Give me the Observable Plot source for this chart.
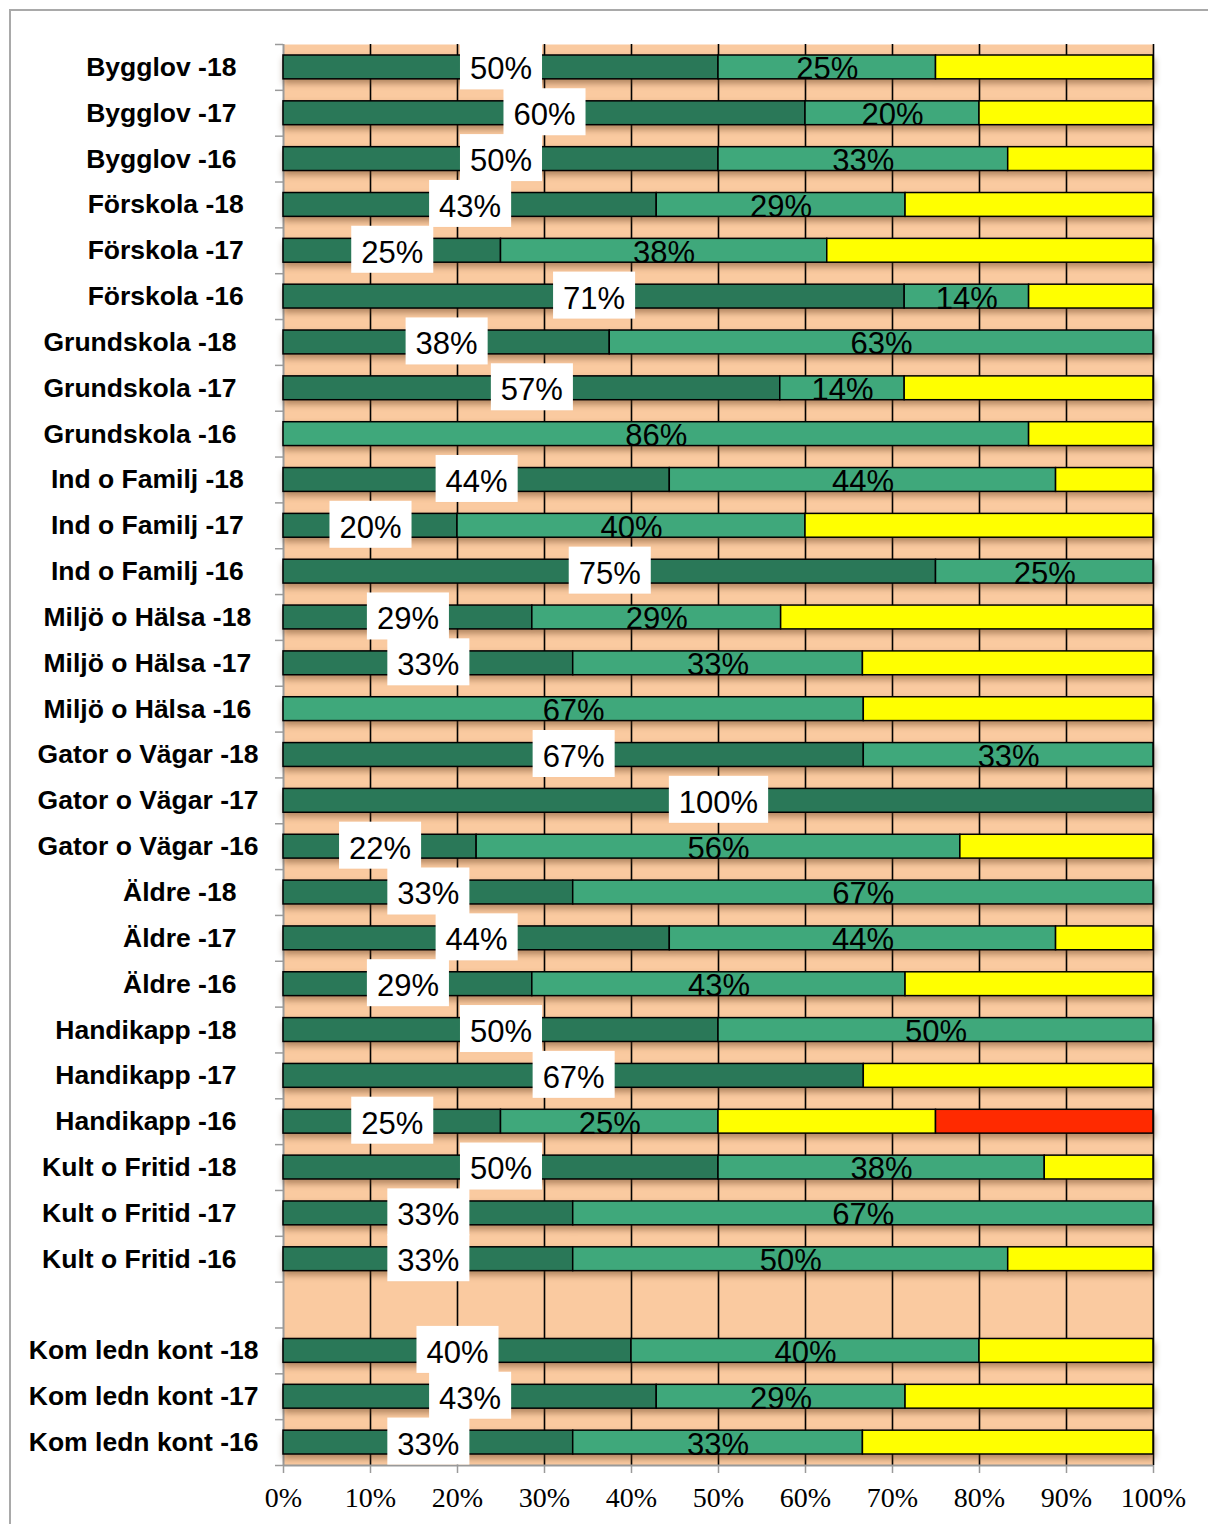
<!DOCTYPE html>
<html>
<head>
<meta charset="utf-8">
<script src="https://cdn.jsdelivr.net/npm/d3@7"></script>
<script src="https://cdn.jsdelivr.net/npm/@observablehq/plot@0.6"></script>
<style>
  body { margin: 0; background: #fff; }
  #wrap { position: relative; width: 1208px; height: 1524px; overflow: hidden; }
  #frame { position: absolute; left: 9px; top: 9px; width: 1400px; height: 1700px;
           border-left: 2px solid #a9a9a9; border-top: 2px solid #a9a9a9; }
  #chart { position: absolute; left: 0; top: 0; }
</style>
</head>
<body>
<div id="wrap"><div id="frame"></div><div id="chart"></div></div>
<script>
// ---- data ----
const categories = [
  "Bygglov -18", "Bygglov -17", "Bygglov -16",
  "Förskola -18", "Förskola -17", "Förskola -16",
  "Grundskola -18", "Grundskola -17", "Grundskola -16",
  "Ind o Familj -18", "Ind o Familj -17", "Ind o Familj -16",
  "Miljö o Hälsa -18", "Miljö o Hälsa -17", "Miljö o Hälsa -16",
  "Gator o Vägar -18", "Gator o Vägar -17", "Gator o Vägar -16",
  "Äldre -18", "Äldre -17", "Äldre -16",
  "Handikapp -18", "Handikapp -17", "Handikapp -16",
  "Kult o Fritid -18", "Kult o Fritid -17", "Kult o Fritid -16",
  "",
  "Kom ledn kont -18", "Kom ledn kont -17", "Kom ledn kont -16"
];
// tick label text as printed (with the trailing spaces of the original labels)
const tickLabels = [
  "Bygglov -18\u00a0\u00a0\u00a0", "Bygglov -17\u00a0\u00a0\u00a0", "Bygglov -16\u00a0\u00a0\u00a0",
  "Förskola -18\u00a0\u00a0", "Förskola -17\u00a0\u00a0", "Förskola -16\u00a0\u00a0",
  "Grundskola -18\u00a0\u00a0\u00a0", "Grundskola -17\u00a0\u00a0\u00a0", "Grundskola -16\u00a0\u00a0\u00a0",
  "Ind o Familj -18\u00a0\u00a0", "Ind o Familj -17\u00a0\u00a0", "Ind o Familj -16\u00a0\u00a0",
  "Miljö o Hälsa -18\u00a0", "Miljö o Hälsa -17\u00a0", "Miljö o Hälsa -16\u00a0",
  "Gator o Vägar -18", "Gator o Vägar -17", "Gator o Vägar -16",
  "Äldre -18\u00a0\u00a0\u00a0", "Äldre -17\u00a0\u00a0\u00a0", "Äldre -16\u00a0\u00a0\u00a0",
  "Handikapp -18\u00a0\u00a0\u00a0", "Handikapp -17\u00a0\u00a0\u00a0", "Handikapp -16\u00a0\u00a0\u00a0",
  "Kult o Fritid -18\u00a0\u00a0\u00a0", "Kult o Fritid -17\u00a0\u00a0\u00a0", "Kult o Fritid -16\u00a0\u00a0\u00a0",
  "",
  "Kom ledn kont -18", "Kom ledn kont -17", "Kom ledn kont -16"
];
const dark   = [50, 60, 50, 42.9, 25, 71.4, 37.5, 57.1, 0, 44.4, 20, 75, 28.6, 33.3, 0, 66.7, 100, 22.2, 33.3, 44.4, 28.6, 50, 66.7, 25, 50, 33.3, 33.3, null, 40, 42.9, 33.3];
const mid    = [25, 20, 33.3, 28.6, 37.5, 14.3, 62.5, 14.3, 85.7, 44.4, 40, 25, 28.6, 33.3, 66.7, 33.3, 0, 55.6, 66.7, 44.4, 42.9, 50, 0, 25, 37.5, 66.7, 50, null, 40, 28.6, 33.3];
const yellow = [25, 20, 16.7, 28.5, 37.5, 14.3, 0, 28.6, 14.3, 11.2, 40, 0, 42.8, 33.4, 33.3, 0, 0, 22.2, 0, 11.2, 28.5, 0, 33.3, 25, 12.5, 0, 16.7, null, 20, 28.5, 33.4];
const red    = [0, 0, 0, 0, 0, 0, 0, 0, 0, 0, 0, 0, 0, 0, 0, 0, 0, 0, 0, 0, 0, 0, 0, 25, 0, 0, 0, null, 0, 0, 0];
const seriesNames = ["dark", "mid", "yellow", "red"];
const seriesColors = ["#2a7858", "#3fa87b", "#ffff00", "#ff2a00"];
const xTicks = [0, 10, 20, 30, 40, 50, 60, 70, 80, 90, 100];

// ---- build table ----
const seriesValues = { dark, mid, yellow, red };
const segs = [];
categories.forEach((c, i) => {
  if (!c) return;
  let acc = 0;
  seriesNames.forEach(s => {
    const v = seriesValues[s][i] || 0;
    if (v > 0) segs.push({ i, s, v, x1: acc, x2: acc + v });
    acc += v;
  });
});
const labelIdx = categories.map((c, i) => c ? i : null).filter(i => i !== null);
const boundaries = d3.range(categories.length + 1).map(k => k - 0.5);
const fmt = d => Math.round(d.v) + "%";
const darkSegs = segs.filter(d => d.s === "dark");
const midSegs = segs.filter(d => d.s === "mid");

const chart = Plot.plot({
  width: 1208, height: 1524,
  marginLeft: 283, marginRight: 55, marginTop: 44, marginBottom: 59,
  style: { background: "transparent", fontFamily: "'Liberation Sans', Arial, sans-serif", color: "#000" },
  x: { domain: [0, 100], label: null },
  y: { domain: [-0.5, categories.length - 0.5], reverse: true, label: null },
  color: { domain: seriesNames, range: seriesColors },
  marks: [
    Plot.frame({ fill: "#facaa0", stroke: null }),
    Plot.ruleX(xTicks.filter(t => t > 0), { stroke: "#000", strokeWidth: 1.6 }),
    Plot.ruleX([0], { stroke: "#9a9a9a", strokeWidth: 2 }),
    Plot.ruleY([categories.length - 0.5], { stroke: "#9a9a9a", strokeWidth: 2 }),
    Plot.axisY({ ticks: boundaries, tickSize: 8, tickFormat: () => "", stroke: "#9a9a9a", strokeWidth: 1.5 }),
    Plot.axisY({ ticks: labelIdx, tickSize: 0, tickPadding: 25, tickFormat: i => tickLabels[i],
                 fontSize: 26.5, fontWeight: "bold", fill: "#000" }),
    Plot.axisX({ ticks: xTicks, tickSize: 8, tickFormat: () => "", stroke: "#9a9a9a", strokeWidth: 1.5 }),
    Plot.axisX({ ticks: xTicks, tickSize: 0, tickPadding: 22, tickFormat: d => d + "%",
                 fontSize: 28, fontFamily: "'Liberation Serif', 'Times New Roman', serif", fill: "#000" }),
    Plot.rect(segs, { x1: "x1", x2: "x2", y1: d => d.i - 0.26, y2: d => d.i + 0.26,
                      fill: "s", stroke: "#000", strokeWidth: 1.5 }),
    Plot.text(midSegs, { x: d => (d.x1 + d.x2) / 2, y: "i", text: fmt, fontSize: 31, dy: 2, fill: "#000" }),
    Plot.text(darkSegs, { x: d => (d.x1 + d.x2) / 2, y: "i", text: fmt, fontSize: 31, dy: 2, fill: "#000" })
  ]
});
document.getElementById("chart").append(chart);

// locate mark groups by their content
const ns = "http://www.w3.org/2000/svg";
const groups = Array.from(chart.querySelectorAll("g"));
const segGroup = groups.find(g => g.querySelectorAll(":scope > rect").length === segs.length);
if (segGroup) segGroup.style.filter = "drop-shadow(1px 4px 3px rgba(90, 50, 20, 0.45))";
const darkTexts = darkSegs.map(fmt).join("|");
const gLabels = groups.find(g => {
  const t = g.querySelectorAll(":scope > text");
  return t.length === darkSegs.length && Array.from(t).map(e => e.textContent).join("|") === darkTexts;
});

// white label boxes behind the dark-segment labels, sized from the rendered text
const yScale = chart.scale("y");
const svgRect = chart.getBoundingClientRect();
if (gLabels) {
  const boxes = document.createElementNS(ns, "g");
  const texts = gLabels.querySelectorAll(":scope > text");
  texts.forEach((t, k) => {
    const r = t.getBoundingClientRect();
    const cx = r.left - svgRect.left + r.width / 2;
    const yc = yScale.apply(darkSegs[k].i);
    const w = r.width + 20, h = 47;
    const rect = document.createElementNS(ns, "rect");
    rect.setAttribute("x", cx - w / 2);
    rect.setAttribute("y", yc - h / 2 - 1);
    rect.setAttribute("width", w);
    rect.setAttribute("height", h);
    rect.setAttribute("fill", "#fff");
    boxes.appendChild(rect);
  });
  gLabels.parentNode.insertBefore(boxes, gLabels);
}
</script>
</body>
</html>
